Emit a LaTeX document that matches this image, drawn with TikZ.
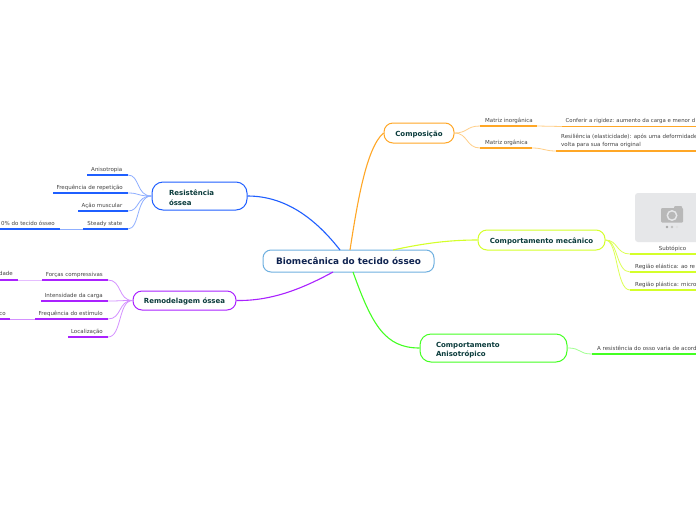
\documentclass[tikz,border=0pt]{standalone}
\usepackage{fontspec}
\setmainfont{DejaVu Sans}
\definecolor{cblue}{HTML}{1F5FFF}
\definecolor{corange}{HTML}{FFA726}
\definecolor{cyellow}{HTML}{D4FF2A}
\definecolor{cgreen}{HTML}{44FF22}
\definecolor{cpurple}{HTML}{AA22FF}
\definecolor{rootline}{HTML}{6FB0E0}
\definecolor{roottext}{HTML}{0F2350}
\definecolor{subtext}{HTML}{0A3B3B}
\definecolor{leaftext}{HTML}{444444}
\definecolor{phfill}{HTML}{E6E7E9}
\tikzset{
  rootbox/.style={draw=rootline,line width=1pt,rounded corners=8pt,fill=white,minimum width=171pt,minimum height=22pt,inner sep=0pt,text=roottext,font=\fontsize{8.9}{10}\selectfont\bfseries},
  subbox/.style={rounded corners=9pt,line width=1pt,fill=white,inner sep=0pt,text=subtext,font=\fontsize{7}{9.2}\selectfont\bfseries},
  oneline/.style={text height=6.5pt,text depth=.5pt},
  txt/.style={inner sep=0pt,text=leaftext,font=\fontsize{5.5}{8}\selectfont,anchor=base},
  branch/.style={line width=1.1pt},
  twig/.style={line width=.8pt},
  under/.style={line width=1.2pt}
}
\begin{document}
\begin{tikzpicture}[x=1pt,y=-1pt]
\useasboundingbox (0,0) rectangle (696,520);
\clip (0,0) rectangle (696,520);
\fill[white] (0,0) rectangle (696,520);
% main nodes
\node[rootbox] (root) at (348.5,261) {Biomecânica do tecido ósseo};
\node[subbox,oneline,draw=corange,minimum width=70pt,minimum height=20pt] (comp) at (419,133) {Composição};
\node[subbox,oneline,draw=cyellow,minimum width=127pt,minimum height=20pt] (mec) at (541.5,240) {Comportamento mecânico};
\node[subbox,draw=cgreen,minimum width=147pt,minimum height=28pt,rounded corners=11pt,align=left,text width=115pt] (ani) at (493.5,348) {\rule{0pt}{10pt}Comportamento\\Anisotrópico};
\node[subbox,draw=cblue,minimum width=95pt,minimum height=28pt,rounded corners=11pt,align=left,text width=61pt] (res) at (199.5,196) {\rule{0pt}{9pt}Resistência\\óssea};
\node[subbox,oneline,draw=cpurple,minimum width=103pt,minimum height=19pt] (rem) at (184.5,300.5) {Remodelagem óssea};
% connector ends at the root
\coordinate (rb) at (340,250);
\coordinate (ro) at (350,250);
\coordinate (ry) at (393,250);
\coordinate (rg) at (353,272);
\coordinate (rp) at (333,272);
\draw[branch,cblue] (rb) .. controls (315,218) and (285,196) .. (res.east);
\draw[branch,corange] (ro) .. controls (357,205) and (366,148) .. (comp.west);
\draw[branch,cyellow] (ry) .. controls (425,243) and (450,240) .. (mec.west);
\draw[branch,cgreen] (rg) .. controls (372,325) and (385,348) .. (ani.west);
\draw[branch,cpurple] (rp) .. controls (300,290) and (270,301) .. (rem.east);
% leaf ends: left side
\coordinate (a1) at (87,175);  \coordinate (a2) at (128,175);
\coordinate (b1) at (53,193);  \coordinate (b2) at (128,193);
\coordinate (c1) at (78,211);  \coordinate (c2) at (128,211);
\coordinate (d1) at (83,229);  \coordinate (d2) at (128,229);
\coordinate (e1) at (0,229);   \coordinate (e2) at (60,229);
\coordinate (f1) at (42,280);  \coordinate (f2) at (108,280);
\coordinate (g1) at (0,280);   \coordinate (g2) at (18,280);
\coordinate (h1) at (41,301);  \coordinate (h2) at (108,301);
\coordinate (i1) at (35,319);  \coordinate (i2) at (108,319);
\coordinate (j1) at (0,319);   \coordinate (j2) at (10,319);
\coordinate (k1) at (68,337);  \coordinate (k2) at (108,337);
% leaf ends: right side
\coordinate (l1) at (480,126);  \coordinate (l2) at (537,126);
\coordinate (m1) at (562,126.5);\coordinate (m2) at (696,126.5);
\coordinate (n1) at (480,148);  \coordinate (n2) at (532,148);
\coordinate (o1) at (556,151);  \coordinate (o2) at (696,151);
\coordinate (p1) at (630,254);  \coordinate (p2) at (696,254);
\coordinate (q1) at (630,272);  \coordinate (q2) at (696,272);
\coordinate (r1) at (630,290);  \coordinate (r2) at (696,290);
\coordinate (s1) at (592,354);  \coordinate (s2) at (696,354);
% twigs
\foreach \t in {a2,b2,c2,d2}
  \draw[twig,cblue!50] (res.west) .. controls (136,196) and (140,196|-\t) .. (\t);
\draw[twig,cblue!50] (e2) -- (d1);
\foreach \t in {f2,h2,i2,k2}
  \draw[twig,cpurple!50] (rem.west) .. controls (118,300.5) and (122,300.5|-\t) .. (\t);
\draw[twig,cpurple!30] (g2) -- (f1);
\draw[twig,cpurple!50] (j2) -- (i1);
\draw[twig,corange!55] (comp.east) .. controls (468,133) and (466,126) .. (l1);
\draw[twig,corange!55] (comp.east) .. controls (468,133) and (466,148) .. (n1);
\draw[twig,corange!55] (l2) -- (m1);
\draw[twig,corange!55] (n2) .. controls (544,148) and (544,151) .. (o1);
\draw[twig,cyellow!80] (mec.east) .. controls (618,240) and (616,254) .. (p1);
\draw[twig,cyellow!80] (mec.east) .. controls (618,240) and (616,272) .. (q1);
\draw[twig,cyellow!80] (mec.east) .. controls (618,240) and (616,290) .. (r1);
\draw[twig,cgreen!50] (ani.east) .. controls (582,348) and (578,354) .. (s1);
% underlines
\foreach \u/\v in {a1/a2,b1/b2,c1/c2,d1/d2,e1/e2} \draw[under,cblue] (\u) -- (\v);
\foreach \u/\v in {f1/f2,g1/g2,h1/h2,i1/i2,j1/j2,k1/k2} \draw[under,cpurple] (\u) -- (\v);
\foreach \u/\v in {l1/l2,m1/m2,n1/n2,o1/o2} \draw[under,corange] (\u) -- (\v);
\foreach \u/\v in {p1/p2,q1/q2,r1/r2} \draw[under,cyellow] (\u) -- (\v);
\draw[under,cgreen] (s1) -- (s2);
% leaf texts
\node[txt,anchor=base east] (ta) at (122.5,171) {Anisotropia};
\node[txt,anchor=base east] (tb) at (123,189) {Frequência de repetição};
\node[txt,anchor=base east] (tc) at (122.5,207) {Ação muscular};
\node[txt,anchor=base east] (td) at (122.5,225) {Steady state};
\node[txt,anchor=base east] (te) at (55,225) {0\% do tecido ósseo};
\node[txt,anchor=base east] (tf) at (103,276) {Forças compressivas};
\node[txt,anchor=base east] (tg) at (13,275) {dade};
\node[txt,anchor=base east] (th) at (103,297) {Intensidade da carga};
\node[txt,anchor=base east] (ti) at (103,315) {Frequência do estímulo};
\node[txt,anchor=base east] (tj) at (6,315) {co};
\node[txt,anchor=base east] (tk) at (103,333) {Localização};
\node[txt,anchor=base west] (tl) at (485,122) {Matriz inorgânica};
\node[txt,anchor=base west,font=\fontsize{5.4}{8}\selectfont] (tm) at (565.5,122) {Conferir a rigidez: aumento da carga e menor d};
\node[txt,anchor=base west] (tn) at (485,144) {Matriz orgânica};
\node[txt,anchor=north west,align=left] (to) at (561,134) {Resiliência (elasticidade): após uma deformidade\\volta para sua forma original};
\node[txt,anchor=base] (tp) at (672.5,250) {Subtópico};
\node[txt,anchor=base west] (tq) at (635,268) {Região elástica: ao re};
\node[txt,anchor=base west] (tr) at (635,286) {Região plástica: micro};
\node[txt,anchor=base west] (ts) at (597,350) {A resistência do osso varia de acord};
% image placeholder
\fill[rounded corners=3pt,fill=phfill] (635,193) rectangle (702,242);
\fill[black!28,rounded corners=1pt] (661,208) rectangle (683,222.5);
\fill[black!28,rounded corners=1pt] (674,206) rectangle (682,209);
\fill[phfill] (672,215.5) circle (5.5pt);
\fill[black!28] (672,215.5) circle (3.8pt);
\fill[black!35] (667,227) circle (1.3pt);
\fill[black!25] (672,227) circle (1.3pt);
\fill[black!12] (677,227) circle (1.3pt);
\end{tikzpicture}
\end{document}
